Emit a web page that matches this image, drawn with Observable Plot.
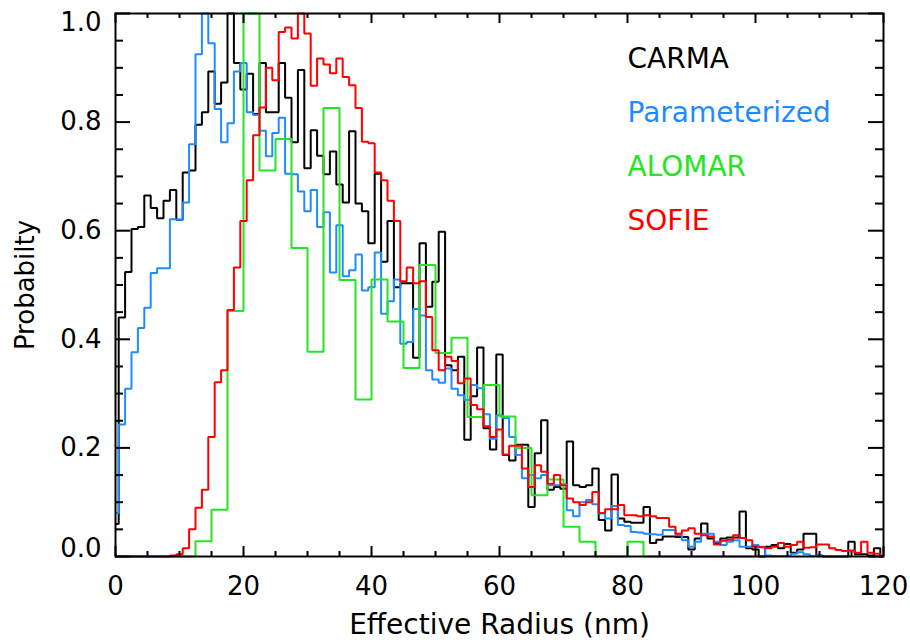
<!DOCTYPE html>
<html><head><meta charset="utf-8">
<script src="https://cdn.jsdelivr.net/npm/d3@7"></script>
<script src="https://cdn.jsdelivr.net/npm/@observablehq/plot@0.6"></script>
<style>
body{margin:0;background:#fff;}
#chart{width:910px;height:640px;}
</style></head><body><div id="chart"></div>
<script>
// ---- data (histogram bin values; bins of 1 nm centred on integers, ALOMAR bins of 2.5 nm) ----
const seriesNames = ["CARMA", "Parameterized", "ALOMAR", "SOFIE"];
const seriesColors = ["#000000", "#1e8cff", "#22e622", "#ff0000"];

const carmaFirstCenter = 0, carmaBinWidth = 1;
const carma = [0.06,0.44,0.524,0.603,0.607,0.665,0.642,0.623,0.655,0.675,
  0.62,0.707,0.711,0.795,0.818,0.893,0.834,0.873,1.0,0.909,
  0.86,0.889,0.815,0.909,0.818,0.818,0.909,0.845,0.763,0.896,
  0.715,0.785,0.738,0.704,0.746,0.685,0.652,0.783,0.65,0.636,
  0.577,0.705,0.543,0.618,0.496,0.503,0.503,0.366,0.577,0.46,
  0.506,0.598,0.352,0.343,0.368,0.215,0.295,0.385,0.236,0.197,
  0.372,0.187,0.177,0.206,0.206,0.091,0.19,0.251,0.123,0.128,
  0.125,0.212,0.131,0.128,0.131,0.162,0.067,0.048,0.151,0.07,
  0.064,0.062,0.062,0.091,0.025,0.031,0.037,0.037,0.036,0.036,
  0.013,0.033,0.061,0.033,0.025,0.033,0.035,0.035,0.083,0.015,
  0.013,0.0,0.018,0.021,0.015,0.023,0.007,0.013,0.042,0.042,
  0.002,0.0,0.0,0.0,0.0,0.027,0.004,0.004,0.002,0.015,0.0];

const paramFirstCenter = 0, paramBinWidth = 1;
const parameterized = [0.08,0.243,0.309,0.376,0.421,0.458,0.522,0.531,0.531,0.621,
  0.62,0.652,0.759,0.925,1.0,0.945,0.824,0.763,0.798,0.893,
  0.909,0.818,0.813,0.784,0.737,0.78,0.808,0.705,0.704,0.672,
  0.636,0.675,0.607,0.634,0.523,0.61,0.516,0.527,0.556,0.49,
  0.496,0.56,0.447,0.47,0.51,0.392,0.395,0.456,0.444,0.343,
  0.326,0.32,0.346,0.309,0.297,0.288,0.316,0.31,0.262,0.217,
  0.26,0.255,0.22,0.187,0.144,0.15,0.144,0.15,0.131,0.131,
  0.133,0.085,0.074,0.1,0.104,0.096,0.079,0.07,0.093,0.058,
  0.056,0.045,0.044,0.042,0.041,0.04,0.049,0.049,0.039,0.03,
  0.018,0.027,0.042,0.042,0.027,0.021,0.027,0.03,0.018,0.018,
  0.021,0.018,0.002,0.001,0.001,0.001,0.005,0.008,0.004,0.001,0.002];

const alomarFirstCenter = 1.25, alomarBinWidth = 2.5;
const alomar = [0,0,0,0,0,0.028,0.086,0.452,1.0,0.711,
  0.769,0.568,0.377,0.826,0.509,0.289,0.51,0.433,0.347,0.537,
  0.375,0.403,0.257,0.316,0.258,0.2,0.113,0.142,0.055,0.027,
  0,0,0.027,0,0,0,0,0,0,0];

const sofieFirstCenter = 0, sofieBinWidth = 1;
const sofie = [0,0,0,0,0,0,0,0,0,0.002,
  0.004,0.015,0.05,0.09,0.123,0.22,0.321,0.343,0.454,0.532,
  0.618,0.693,0.776,0.827,0.90,0.877,0.966,0.974,0.954,1.0,
  0.963,0.867,0.917,0.906,0.89,0.917,0.883,0.868,0.826,0.764,
  0.761,0.707,0.693,0.655,0.618,0.507,0.532,0.503,0.507,0.441,
  0.38,0.343,0.368,0.36,0.319,0.328,0.279,0.271,0.24,0.22,
  0.234,0.188,0.204,0.204,0.162,0.128,0.168,0.156,0.134,0.15,
  0.131,0.107,0.1,0.095,0.1,0.119,0.08,0.087,0.087,0.095,
  0.076,0.076,0.074,0.076,0.074,0.071,0.071,0.055,0.042,0.048,
  0.052,0.042,0.039,0.037,0.022,0.029,0.031,0.039,0.034,0.03,
  0.018,0.017,0.015,0.018,0.025,0.018,0.021,0.027,0.016,0.017,
  0.022,0.022,0.015,0.012,0.01,0.011,0.007,0.027,0.007,0.005,0.0];

const xMajorTicks = [0, 20, 40, 60, 80, 100, 120];
const xMinorTicks = [5,10,15,25,30,35,45,50,55,65,70,75,85,90,95,105,110,115];
const yMajorTicks = [0, 0.2, 0.4, 0.6, 0.8, 1.0];
const yMinorTicks = [0.05,0.1,0.15,0.25,0.3,0.35,0.45,0.5,0.55,0.65,0.7,0.75,0.85,0.9,0.95];
const xTitle = "Effective Radius (nm)";
const yTitle = "Probabilty";

// ---- build ----
const W = 910, H = 640, mL = 115, mR = 27, mT = 13, mB = 84;
const plotW = W - mL - mR, plotH = H - mT - mB;
const xMax = 120;

function stepPoints(firstCenter, binWidth, values) {
  const pts = [];
  values.forEach((v, i) => {
    const c = firstCenter + i * binWidth;
    pts.push({x: Math.max(0, c - binWidth / 2), y: v});
    pts.push({x: Math.min(xMax, c + binWidth / 2), y: v});
  });
  return pts;
}
const series = [
  stepPoints(carmaFirstCenter, carmaBinWidth, carma),
  stepPoints(paramFirstCenter, paramBinWidth, parameterized),
  stepPoints(alomarFirstCenter, alomarBinWidth, alomar),
  stepPoints(sofieFirstCenter, sofieBinWidth, sofie)
];

const font = "'DejaVu Sans', sans-serif";
const fmtY = d3.format(".1f");
const yFirst = yMajorTicks[0], yLast = yMajorTicks[yMajorTicks.length - 1];
const marks = [];
series.forEach((pts, i) => marks.push(Plot.line(pts, {x: "x", y: "y", stroke: seriesColors[i], strokeWidth: 2, strokeLinejoin: "miter", strokeLinecap: "butt"})));
// inward ticks on all four sides
marks.push(Plot.tickX(xMajorTicks, {x: d => d, insetTop: plotH - 10, strokeWidth: 2}));
marks.push(Plot.tickX(xMinorTicks, {x: d => d, insetTop: plotH - 5, strokeWidth: 2}));
marks.push(Plot.tickX(xMajorTicks, {x: d => d, insetBottom: plotH - 10, strokeWidth: 2}));
marks.push(Plot.tickX(xMinorTicks, {x: d => d, insetBottom: plotH - 5, strokeWidth: 2}));
marks.push(Plot.tickY(yMajorTicks, {y: d => d, insetRight: plotW - 15, strokeWidth: 2}));
marks.push(Plot.tickY(yMinorTicks, {y: d => d, insetRight: plotW - 8, strokeWidth: 2}));
marks.push(Plot.tickY(yMajorTicks, {y: d => d, insetLeft: plotW - 15, strokeWidth: 2}));
marks.push(Plot.tickY(yMinorTicks, {y: d => d, insetLeft: plotW - 8, strokeWidth: 2}));
marks.push(Plot.frame({stroke: "black", strokeWidth: 2}));
marks.push(Plot.axisX({ticks: xMajorTicks, tickSize: 0, tickPadding: 20, tickFormat: d => String(d), fontSize: 26, label: null}));
// y tick labels: the end labels are nudged inside the frame as in the reference
marks.push(Plot.text(yMajorTicks.filter(d => d !== yFirst && d !== yLast), {x: 0, y: d => d, text: d => fmtY(d), textAnchor: "end", dx: -14, fontSize: 26, fill: "black"}));
marks.push(Plot.text([yLast], {x: 0, y: d => d, text: d => fmtY(d), textAnchor: "end", dx: -14, dy: 9, fontSize: 26, fill: "black"}));
marks.push(Plot.text([yFirst], {x: 0, y: d => d, text: d => fmtY(d), textAnchor: "end", dx: -14, dy: -8, fontSize: 26, fill: "black"}));
marks.push(Plot.text([xTitle], {text: d => d, frameAnchor: "bottom", lineAnchor: "middle", textAnchor: "middle", dy: 69, fontSize: 28, fill: "black"}));
marks.push(Plot.text([yTitle], {text: d => d, frameAnchor: "left", textAnchor: "middle", lineAnchor: "middle", rotate: -90, dx: -90, fontSize: 26, fill: "black"}));
seriesNames.forEach((name, i) => marks.push(Plot.text([name], {text: d => d, frameAnchor: "top-left", textAnchor: "start", lineAnchor: "middle", dx: 512, dy: 46 + 54 * i, fontSize: 28, fill: seriesColors[i]})));

const chart = Plot.plot({
  width: W, height: H,
  marginLeft: mL, marginRight: mR, marginTop: mT, marginBottom: mB,
  style: {fontFamily: font, background: "white", color: "black"},
  x: {domain: [0, 120], axis: null},
  y: {domain: [0, 1.0], axis: null},
  marks
});
document.getElementById("chart").appendChild(chart);
</script></body></html>
